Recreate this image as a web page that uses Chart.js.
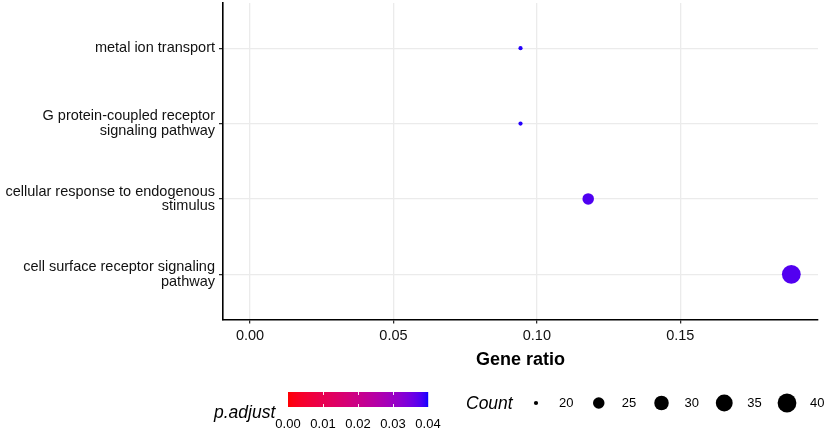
<!DOCTYPE html>
<html><head><meta charset="utf-8">
<script src="https://cdn.jsdelivr.net/npm/chart.js@4"></script>
<style>html,body{margin:0;padding:0;background:#fff}#wrap{width:829px;height:434px;position:relative}</style>
</head><body><div id="wrap"><canvas id="c" width="829" height="434"></canvas></div>
<script>
// ---- data ----
const categories = [
  ["metal ion transport"],
  ["G protein-coupled receptor", "signaling pathway"],
  ["cellular response to endogenous", "stimulus"],
  ["cell surface receptor signaling", "pathway"]
];
const geneRatio = [0.0943, 0.0943, 0.1179, 0.1887];
const counts = [20, 20, 25, 40];
const pAdjust = [0.0395, 0.0395, 0.0378, 0.0376];
const xTicks = [0, 0.05, 0.10, 0.15];
const colorTicks = [0, 0.01, 0.02, 0.03, 0.04];
const sizeBreaks = [20, 25, 30, 35, 40];

// ---- style helpers ----
const FONT = "'Liberation Sans', Arial, Helvetica, sans-serif";
const PLOT_TOP = 3;
const colorLo = [255, 0, 0], colorHi = [0, 0, 255];
const pMin = colorTicks[0], pMax = colorTicks[colorTicks.length - 1];
function toLin(c){c/=255;return c<=0.04045?c/12.92:Math.pow((c+0.055)/1.055,2.4);}
function fromLin(c){c=c<=0.0031308?12.92*c:1.055*Math.pow(c,1/2.4)-0.055;return Math.max(0,Math.min(255,Math.round(c*255)));}
const Wn=[0.95047,1,1.08883];
function rgb2lab(rgb){
  const r=toLin(rgb[0]),g=toLin(rgb[1]),b=toLin(rgb[2]);
  const X=(0.4124*r+0.3576*g+0.1805*b)/Wn[0],Y=(0.2126*r+0.7152*g+0.0722*b)/Wn[1],Z=(0.0193*r+0.1192*g+0.9505*b)/Wn[2];
  const f=t=>t>0.008856?Math.cbrt(t):7.787*t+16/116;
  const fx=f(X),fy=f(Y),fz=f(Z);
  return [116*fy-16,500*(fx-fy),200*(fy-fz)];
}
function lab2rgb(lab){
  const fy=(lab[0]+16)/116,fx=fy+lab[1]/500,fz=fy-lab[2]/200;
  const fi=t=>t>0.206893?t*t*t:(t-16/116)/7.787;
  const X=fi(fx)*Wn[0],Y=fi(fy)*Wn[1],Z=fi(fz)*Wn[2];
  const r=3.2406*X-1.5372*Y-0.4986*Z,g=-0.9689*X+1.8758*Y+0.0415*Z,b=0.0557*X-0.2040*Y+1.0570*Z;
  return [fromLin(r),fromLin(g),fromLin(b)];
}
const labLo=rgb2lab(colorLo), labHi=rgb2lab(colorHi);
function pColor(p){
  const t=Math.max(0,Math.min(1,(p-pMin)/(pMax-pMin)));
  const c=lab2rgb([0,1,2].map(i=>labLo[i]+(labHi[i]-labLo[i])*t));
  return 'rgb('+c.join(',')+')';
}
const cLo=Math.min(...counts), cHi=Math.max(...counts);
const rMin=2.1, rMax=9.4;
function sizeR(c){return rMin+(rMax-rMin)*Math.sqrt(Math.max(0,(c-cLo)/(cHi-cLo)));}

// ---- plot-area top fix ----
const topFix = {
  id:'topFix',
  afterLayout(chart){
    const ca=chart.chartArea;
    if(ca.top!==PLOT_TOP){
      ca.top=PLOT_TOP; ca.height=ca.bottom-PLOT_TOP;
      const y=chart.scales.y;
      y.top=PLOT_TOP; y.height=y.bottom-PLOT_TOP;
      y.configure();
    }
  }
};

// ---- legend plugin ----
const legendPlugin = {
  id:'ggLegend',
  afterDraw(chart){
    const ctx=chart.ctx;
    ctx.save();
    ctx.fillStyle='#000';
    ctx.font='italic 17.5px '+FONT;
    ctx.textAlign='left'; ctx.textBaseline='alphabetic';
    ctx.fillText('p.adjust',214,418);
    const bx=288,by=392,bw=140,bh=15;
    for(let i=0;i<bw;i++){
      ctx.fillStyle=pColor(pMin+(pMax-pMin)*(i+0.5)/bw);
      ctx.fillRect(bx+i,by,1.2,bh);
    }
    ctx.strokeStyle='rgba(255,255,255,0.9)'; ctx.lineWidth=1;
    colorTicks.forEach(v=>{
      if(v===pMin||v===pMax) return;
      const x=Math.round(bx+(v-pMin)/(pMax-pMin)*bw)+0.5;
      ctx.beginPath();ctx.moveTo(x,by);ctx.lineTo(x,by+3);ctx.moveTo(x,by+bh-3);ctx.lineTo(x,by+bh);ctx.stroke();
    });
    ctx.fillStyle='#000';
    ctx.font='13px '+FONT; ctx.textAlign='center'; ctx.textBaseline='middle';
    colorTicks.forEach(v=>{
      const x=bx+(v-pMin)/(pMax-pMin)*bw;
      ctx.fillText(v.toFixed(2),x,424);
    });
    ctx.font='italic 17.5px '+FONT; ctx.textAlign='left'; ctx.textBaseline='alphabetic';
    ctx.fillText('Count',466,409);
    ctx.font='13px '+FONT; ctx.textBaseline='middle';
    sizeBreaks.forEach((c,i)=>{
      const cx=536+i*62.75, cy=403;
      ctx.beginPath();ctx.arc(cx,cy,sizeR(c),0,Math.PI*2);ctx.fill();
      ctx.fillText(String(c),cx+23,cy+0.5);
    });
    ctx.restore();
  }
};

const points = geneRatio.map((g,i)=>({x:g,y:i}));

new Chart(document.getElementById('c'),{
  type:'scatter',
  data:{datasets:[{
    data:points,
    pointRadius:ctx=>sizeR(counts[ctx.dataIndex]),
    pointHoverRadius:ctx=>sizeR(counts[ctx.dataIndex]),
    pointBackgroundColor:ctx=>pColor(pAdjust[ctx.dataIndex]),
    pointBorderWidth:0,
    pointBorderColor:'rgba(0,0,0,0)'
  }]},
  options:{
    responsive:false,
    animation:false,
    events:[],
    layout:{padding:{left:0,right:11,top:3,bottom:63.5}},
    plugins:{legend:{display:false},tooltip:{enabled:false}},
    scales:{
      x:{
        type:'linear',min:-0.00941,max:0.198,
        afterBuildTicks(ax){ax.ticks=xTicks.map(v=>({value:v}));},
        afterFit(ax){ax.height=51;ax.paddingLeft=0;ax.paddingRight=0;},
        grid:{color:'#EBEBEB',lineWidth:1.3,tickColor:'#222',tickLength:4,tickWidth:1.2},
        border:{display:true,color:'#000',width:1.6},
        ticks:{color:'#111',font:{family:FONT,size:14.5},padding:4,maxRotation:0,
          callback:v=>Number(v).toFixed(2)},
        title:{display:true,text:'Gene ratio',color:'#000',font:{family:FONT,size:18,weight:'bold'},padding:{top:0,bottom:0}}
      },
      y:{
        type:'linear',min:-0.6,max:3.6,reverse:true,
        afterBuildTicks(ax){ax.ticks=categories.map((c,i)=>({value:i}));},
        afterFit(ax){ax.width=223;ax.paddingTop=0;ax.paddingBottom=0;},
        grid:{color:'#EBEBEB',lineWidth:1.3,tickColor:'#222',tickLength:4,tickWidth:1.2},
        border:{display:true,color:'#000',width:1.6},
        ticks:{color:'#111',font:{family:FONT,size:14.5,lineHeight:1.02},padding:4,
          callback:v=>categories[v]}
      }
    }
  },
  plugins:[topFix, legendPlugin]
});
</script></body></html>
